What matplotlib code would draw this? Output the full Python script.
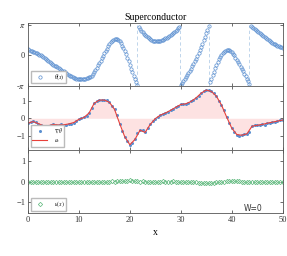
import numpy as np
import matplotlib
matplotlib.use("Agg")
import matplotlib.pyplot as plt

plt.rcParams['font.family'] = ['Liberation Serif', 'DejaVu Serif']
plt.rcParams['mathtext.fontset'] = 'stix'

# phase theta(x), wrapped to (-pi, pi], sampled every 0.25
x_th = np.linspace(0, 50, 201)
theta = [0.62, 0.55, 0.48, 0.42, 0.36, 0.31, 0.26, 0.2, 0.14, 0.07,
         0.0, -0.08, -0.16, -0.27, -0.38, -0.49, -0.6, -0.71, -0.82, -0.91,
         -1.0, -1.08, -1.16, -1.25, -1.33, -1.41, -1.5, -1.59, -1.68, -1.77,
         -1.86, -1.95, -2.03, -2.12, -2.2, -2.26, -2.32, -2.37, -2.42, -2.45,
         -2.47, -2.48, -2.48, -2.47, -2.46, -2.43, -2.4, -2.35, -2.3, -2.21,
         -2.1, -1.94, -1.75, -1.53, -1.3, -1.06, -0.82, -0.56, -0.3, -0.05,
         0.2, 0.45, 0.7, 0.93, 1.15, 1.34, 1.5, 1.63, 1.72, 1.73,
         1.68, 1.58, 1.45, 1.25, 1.0, 0.74, 0.45, 0.11, -0.25, -0.62,
         -1.0, -1.38, -1.75, -2.1, -2.45, -2.78, -3.05, 2.95, 2.75, 2.57,
         2.4, 2.24, 2.1, 1.97, 1.85, 1.75, 1.67, 1.59, 1.52, 1.48,
         1.45, 1.45, 1.46, 1.49, 1.52, 1.57, 1.63, 1.69, 1.76, 1.84,
         1.92, 2.01, 2.1, 2.2, 2.3, 2.41, 2.52, 2.65, 2.8, 2.97,
         -3.1, -2.88, -2.67, -2.46, -2.25, -2.04, -1.83, -1.61, -1.38, -1.13,
         -0.88, -0.62, -0.35, -0.07, 0.22, 0.53, 0.85, 1.2, 1.55, 1.92,
         2.3, 2.67, 3.03, -2.79, -2.42, -2.05, -1.7, -1.35, -1.02, -0.7,
         -0.42, -0.18, 0.02, 0.19, 0.33, 0.44, 0.52, 0.55, 0.52, 0.44,
         0.32, 0.16, -0.02, -0.23, -0.45, -0.68, -0.92, -1.17, -1.42, -1.67,
         -1.92, -2.17, -2.42, -2.68, -2.95, 3.08, 2.95, 2.83, 2.72, 2.61,
         2.5, 2.39, 2.28, 2.17, 2.06, 1.95, 1.85, 1.75, 1.65, 1.56,
         1.47, 1.38, 1.3, 1.22, 1.15, 1.07, 1.0, 0.93, 0.87, 0.81,
         0.75]
jumps = [21.5, 29.9, 35.5, 43.4]

# gradient of the phase, sampled every 0.5
x = np.linspace(0, 50, 101)
grad = [-0.28, -0.22, -0.18, -0.2, -0.3, -0.38, -0.42, -0.46, -0.42, -0.36,
        -0.34, -0.38, -0.4, -0.34, -0.38, -0.36, -0.32, -0.3, -0.24, -0.16,
        -0.06, 0.03, 0.05, 0.14, 0.3, 0.58, 0.85, 0.95, 1.04, 1.06,
        1.02, 1.04, 0.9, 0.72, 0.5, 0.2, -0.3, -0.72, -1.05, -1.28,
        -1.5, -1.42, -1.2, -0.85, -0.68, -0.66, -0.8, -0.55, -0.35, -0.15,
        -0.02, 0.1, 0.18, 0.26, 0.3, 0.38, 0.45, 0.55, 0.62, 0.7,
        0.78, 0.8, 0.82, 0.86, 0.95, 1.05, 1.15, 1.28, 1.42, 1.55,
        1.6, 1.58, 1.52, 1.42, 1.25, 1.0, 0.75, 0.45, 0.08, -0.25,
        -0.55, -0.78, -0.92, -0.98, -0.96, -0.9, -0.88, -0.8, -0.45, -0.38,
        -0.4, -0.36, -0.35, -0.37, -0.28, -0.25, -0.22, -0.2, -0.16, -0.12,
        -0.1]

# a_s on a coarser grid
x_as = np.arange(0, 51)
a_s = [-0.28, -0.19, -0.3, -0.42, -0.42, -0.35, -0.38, -0.37, -0.32, -0.24,
       -0.06, 0.05, 0.3, 0.85, 1.03, 1.03, 0.9, 0.5, -0.3, -1.05,
       -1.5, -1.2, -0.68, -0.8, -0.35, -0.02, 0.18, 0.3, 0.45, 0.62,
       0.78, 0.82, 0.95, 1.15, 1.42, 1.6, 1.52, 1.25, 0.75, 0.08,
       -0.55, -0.92, -0.96, -0.88, -0.45, -0.4, -0.35, -0.28, -0.22, -0.16,
       -0.1]

# u(x), sampled every 0.5
u = [0.0, 0.01, -0.01, 0.01, 0.0, -0.01, 0.01, 0.0, 0.01, -0.01,
     0.0, 0.01, 0.0, -0.01, 0.01, 0.0, 0.0, 0.01, -0.01, 0.0,
     0.01, 0.0, -0.01, 0.0, 0.01, 0.0, -0.01, -0.02, -0.01, 0.0,
     0.01, 0.0, 0.01, 0.02, 0.01, 0.02, 0.03, 0.04, 0.04, 0.05,
     0.06, 0.05, 0.03, 0.02, 0.01, 0.02, 0.0, 0.01, 0.0, 0.01,
     -0.01, 0.0, 0.01, 0.02, 0.01, 0.0, 0.01, 0.02, 0.01, 0.0,
     0.0, -0.01, 0.0, -0.01, -0.02, -0.03, -0.03, -0.04, -0.05, -0.05,
     -0.06, -0.05, -0.05, -0.04, -0.02, -0.01, 0.0, 0.01, 0.02, 0.02,
     0.03, 0.02, 0.03, 0.02, 0.01, 0.0, 0.01, 0.0, 0.01, 0.0,
     -0.01, 0.0, 0.01, 0.0, -0.01, 0.0, 0.01, 0.0, -0.01, 0.0,
     0.0]

blue = '#5b8fd0'
red = '#e8403a'
green = '#5cb87a'

fig = plt.figure(figsize=(2.87, 2.56), dpi=100)
left, width, h = 0.0976, 0.887, 0.2484
ax1 = fig.add_axes([left, 0.1668 + 2 * h, width, h])
ax2 = fig.add_axes([left, 0.1668 + h, width, h], sharex=ax1)
ax3 = fig.add_axes([left, 0.1668, width, h], sharex=ax1)

for ax in (ax1, ax2, ax3):
    ax.tick_params(direction='in', length=2.5, width=0.5, labelsize=6,
                   top=True, right=True, pad=2, colors='#333333')
    for s in ax.spines.values():
        s.set_linewidth(0.6)
        s.set_color('#555555')
    ax.set_xlim(0, 50)
    ax.set_xticks([0, 10, 20, 30, 40, 50])
ax1.tick_params(labelbottom=False)
ax2.tick_params(labelbottom=False)

leg_kw = dict(loc='lower left', fontsize=4, frameon=True, fancybox=False,
              edgecolor='#bbbbbb', framealpha=1, borderpad=0.3,
              handlelength=2.6, handletextpad=1.2, labelspacing=0.35,
              borderaxespad=0.5)

# top: phase
ax1.vlines(jumps, -np.pi, np.pi, colors='#b5cfe8', linestyles=(0, (4, 3)),
           linewidth=0.6)
ax1.plot(x_th, theta, 'o', ms=2.4, mfc='none', mec=blue, mew=0.5,
         label=r'$\theta(x)$')
ax1.set_ylim(-3.2, 3.4)
ax1.set_yticks([-np.pi, 0, np.pi])
ax1.set_yticklabels([r'-$\pi$', '0', r'$\pi$'])
ax1.set_title('Superconductor', fontsize=7, pad=2)
ax1.legend(**leg_kw)

# middle: gradient and a_s
ax2.fill_between(x_as, a_s, 0, color='#fde2e2', linewidth=0)
ax2.plot(x, grad, 'o', ms=2.2, color=blue, mew=0, label=r'$\nabla\theta$')
ax2.plot(x_as, a_s, '-', color=red, lw=0.8, label=r'$a_s$')
ax2.set_ylim(-1.78, 1.82)
ax2.set_yticks([-1, 0, 1])
ax2.legend(**leg_kw)

# bottom: u(x)
ax3.plot(x, u, 'D', ms=2.2, mfc='none', mec=green, mew=0.5, label=r'$u(x)$')
ax3.set_ylim(-1.55, 1.57)
ax3.set_yticks([-1, 0, 1])
ax3.legend(**leg_kw)
ax3.text(0.92, 0.08, 'W=0', transform=ax3.transAxes, ha='right',
         va='center', fontsize=5.5, family='DejaVu Sans', color='#333333')
ax3.set_xlabel('x', fontsize=7, labelpad=3)

fig.savefig('out.png', dpi=100)
